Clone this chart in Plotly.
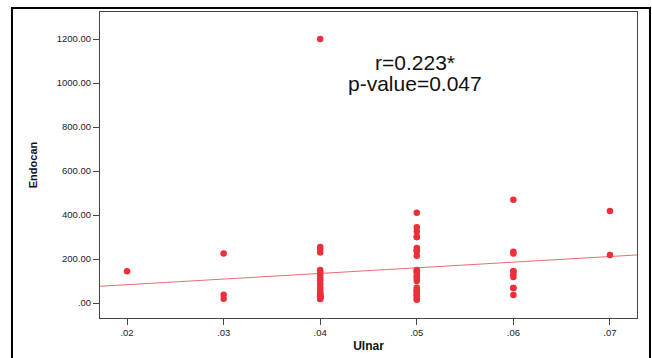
import plotly.graph_objects as go
import numpy as np

x_groups = [0.02, 0.03, 0.04, 0.05, 0.06, 0.07]
y_002 = [145]
y_003 = [225, 38, 20]
y_004 = [1200, 255, 245, 230, 150, 140, 125, 112, 100, 85, 70, 55, 45, 35, 25, 18,
         40, 30, 25, 35, 20, 30]
y_005 = [410, 345, 325, 300, 250, 235, 215, 150, 140, 125, 110, 100, 70, 60, 50, 40, 30, 20, 15,
         300, 240, 145, 120, 55, 35]
y_006 = [470, 233, 225, 145, 130, 118, 68, 36, 145, 68]
y_007 = [418, 218]
y_lists = [y_002, y_003, y_004, y_005, y_006, y_007]

xtick_vals = [0.02, 0.03, 0.04, 0.05, 0.06, 0.07]
xtick_text = [".02", ".03", ".04", ".05", ".06", ".07"]
ytick_vals = [0, 200, 400, 600, 800, 1000, 1200]
ytick_text = [".00", "200.00", "400.00", "600.00", "800.00", "1000.00", "1200.00"]

xs = []
ys = []
for xv, yl in zip(x_groups, y_lists):
    xs += [xv] * len(yl)
    ys += yl
xs = np.array(xs)
ys = np.array(ys, dtype=float)

x_range = [0.0172, 0.0728]
y_range = [-68, 1323]

slope, intercept = np.polyfit(xs, ys, 1)
lx = np.array(x_range)
ly = intercept + slope * lx

red = "#ee2f3b"
fnt = "Liberation Sans, Arial"
fig = go.Figure()
fig.add_trace(go.Scatter(x=lx, y=ly, mode="lines", line=dict(color="#f06a70", width=1), hoverinfo="skip"))
fig.add_trace(go.Scatter(x=xs, y=ys, mode="markers",
                         marker=dict(color=red, size=6.5, line=dict(width=0))))

axis_common = dict(showgrid=False, zeroline=False, showline=True, linecolor="#444444", linewidth=1,
                   mirror=True, ticks="outside", ticklen=6, tickcolor="#444444", automargin=False,
                   tickfont=dict(family=fnt, size=9.5, color="#222222"))

fig.update_layout(
    width=652, height=358,
    margin=dict(l=100, r=15, t=12, b=40),
    paper_bgcolor="white", plot_bgcolor="white",
    showlegend=False,
    xaxis=dict(range=x_range, tickvals=xtick_vals, ticktext=xtick_text,
               title=dict(text="<b>Ulnar</b>", font=dict(family=fnt, size=12, color="#111"), standoff=4),
               **axis_common),
    yaxis=dict(range=y_range, tickvals=ytick_vals, ticktext=ytick_text,
               title=dict(text="<b>Endocan</b>", font=dict(family=fnt, size=11, color="#111"), standoff=16),
               **axis_common),
    annotations=[
        dict(x=0.0498, y=1095, xref="x", yref="y", text="r=0.223*", showarrow=False,
             font=dict(family=fnt, size=21, color="#111")),
        dict(x=0.0498, y=1000, xref="x", yref="y", text="p-value=0.047", showarrow=False,
             font=dict(family=fnt, size=21, color="#111")),
    ],
    shapes=[
        dict(type="rect", xref="paper", yref="paper", x0=-0.1639, x1=1.0242, y0=-0.3, y1=1.013,
             line=dict(color="black", width=2), fillcolor="rgba(0,0,0,0)", layer="below"),
    ],
)
fig.write_html("out.html")
